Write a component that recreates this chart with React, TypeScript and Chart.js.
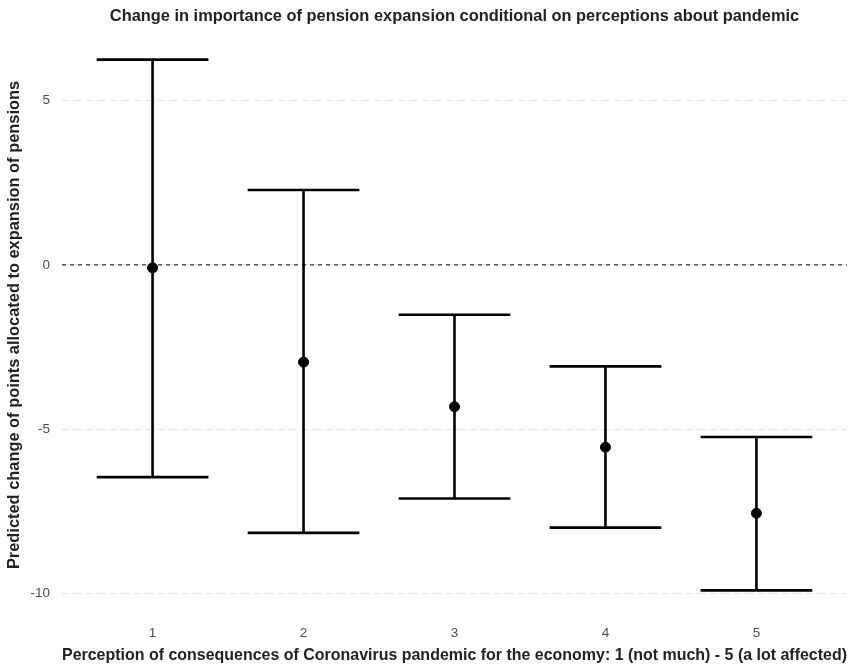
import React, { useEffect, useRef } from "react";
import { Chart, registerables } from "chart.js";

Chart.register(...registerables);

const categories = [1, 2, 3, 4, 5];
const estimates = [-0.09, -2.96, -4.32, -5.55, -7.56];
const upperCI = [6.25, 2.28, -1.52, -3.09, -5.24];
const lowerCI = [-6.46, -8.16, -7.11, -8.0, -9.91];
const yTicks = [-10, -5, 0, 5];

const titleText = "Change in importance of pension expansion conditional on perceptions about pandemic";
const xTitle = "Perception of consequences of Coronavirus pandemic for the economy: 1 (not much) - 5 (a lot affected)";
const yTitle = "Predicted change of points allocated to expansion of pensions";

const FONT = "'Liberation Sans', Arial, Helvetica, sans-serif";

const errorBarPlugin = {
  id: "errorBars",
  beforeDatasetsDraw(chart: any) {
    const { ctx, scales, chartArea } = chart;
    const xs = scales.x;
    const ys = scales.y;
    // zero reference line
    ctx.save();
    ctx.strokeStyle = "#000";
    ctx.lineWidth = 1;
    ctx.setLineDash([4, 4]);
    const y0 = ys.getPixelForValue(0);
    ctx.beginPath();
    ctx.moveTo(chartArea.left, y0);
    ctx.lineTo(chartArea.right, y0);
    ctx.stroke();
    ctx.restore();

    ctx.save();
    ctx.strokeStyle = "#000";
    ctx.lineWidth = 2.6;
    ctx.setLineDash([]);
    const half = 0.37;
    categories.forEach((c, i) => {
      const x = xs.getPixelForValue(c);
      const xl = xs.getPixelForValue(c - half);
      const xr = xs.getPixelForValue(c + half);
      const yu = ys.getPixelForValue(upperCI[i]);
      const yl = ys.getPixelForValue(lowerCI[i]);
      ctx.beginPath();
      ctx.moveTo(x, yu);
      ctx.lineTo(x, yl);
      ctx.moveTo(xl, yu);
      ctx.lineTo(xr, yu);
      ctx.moveTo(xl, yl);
      ctx.lineTo(xr, yl);
      ctx.stroke();
    });
    ctx.restore();
  },
};

const titlePlugin = {
  id: "panelTitle",
  afterDraw(chart: any) {
    const { ctx, chartArea } = chart;
    ctx.save();
    ctx.font = `bold 16.4px ${FONT}`;
    ctx.fillStyle = "#222";
    ctx.textAlign = "center";
    ctx.textBaseline = "middle";
    ctx.fillText(titleText, (chartArea.left + chartArea.right) / 2, 16);
    ctx.restore();
  },
};

export default function App() {
  const ref = useRef<HTMLCanvasElement | null>(null);

  useEffect(() => {
    if (!ref.current) return;
    const chart = new Chart(ref.current, {
      type: "scatter",
      data: {
        datasets: [
          {
            data: categories.map((c, i) => ({ x: c, y: estimates[i] })),
            backgroundColor: "#000",
            borderColor: "#000",
            pointRadius: 5,
            pointHoverRadius: 5,
          },
        ],
      },
      options: {
        animation: false,
        responsive: false,
        maintainAspectRatio: false,
        layout: { padding: { top: 33, left: 0, right: 5, bottom: 0 } },
        plugins: {
          legend: { display: false },
          tooltip: { enabled: false },
          title: { display: false },
        },
        scales: {
          x: {
            type: "linear",
            min: 0.4,
            max: 5.6,
            afterBuildTicks: (scale: any) => {
              scale.ticks = categories.map((v) => ({ value: v }));
            },
            afterFit: (scale: any) => {
              scale.height = 50;
            },
            grid: { display: false, drawTicks: false },
            border: { display: false },
            ticks: {
              color: "#4d4d4d",
              font: { family: FONT, size: 13.5 },
              padding: 8,
              maxRotation: 0,
              callback: (v: any) => String(v),
            },
            title: {
              display: true,
              text: xTitle,
              color: "#222",
              font: { family: FONT, size: 17.3, weight: "bold" },
              padding: { top: 0, bottom: 1 },
            },
          },
          y: {
            type: "linear",
            min: -10.72,
            max: 7.06,
            afterBuildTicks: (scale: any) => {
              scale.ticks = yTicks.map((v) => ({ value: v }));
            },
            afterFit: (scale: any) => {
              scale.width = 62;
            },
            grid: { color: "#e3e3e3", lineWidth: 1, drawTicks: false },
            border: { display: false, dash: [7, 5] },
            ticks: {
              color: "#4d4d4d",
              font: { family: FONT, size: 13.5 },
              padding: 12,
              callback: (v: any) => String(v),
            },
            title: {
              display: true,
              text: yTitle,
              color: "#222",
              font: { family: FONT, size: 16.4, weight: "bold" },
              padding: { top: 5, bottom: 4 },
            },
          },
        },
      },
      plugins: [errorBarPlugin, titlePlugin],
    } as any);
    return () => chart.destroy();
  }, []);

  return (
    <div style={{ position: "fixed", left: 0, top: 0, width: 853, height: 667, background: "#fff" }}>
      <canvas ref={ref} width={853} height={667} style={{ width: 853, height: 667, display: "block" }} />
    </div>
  );
}
